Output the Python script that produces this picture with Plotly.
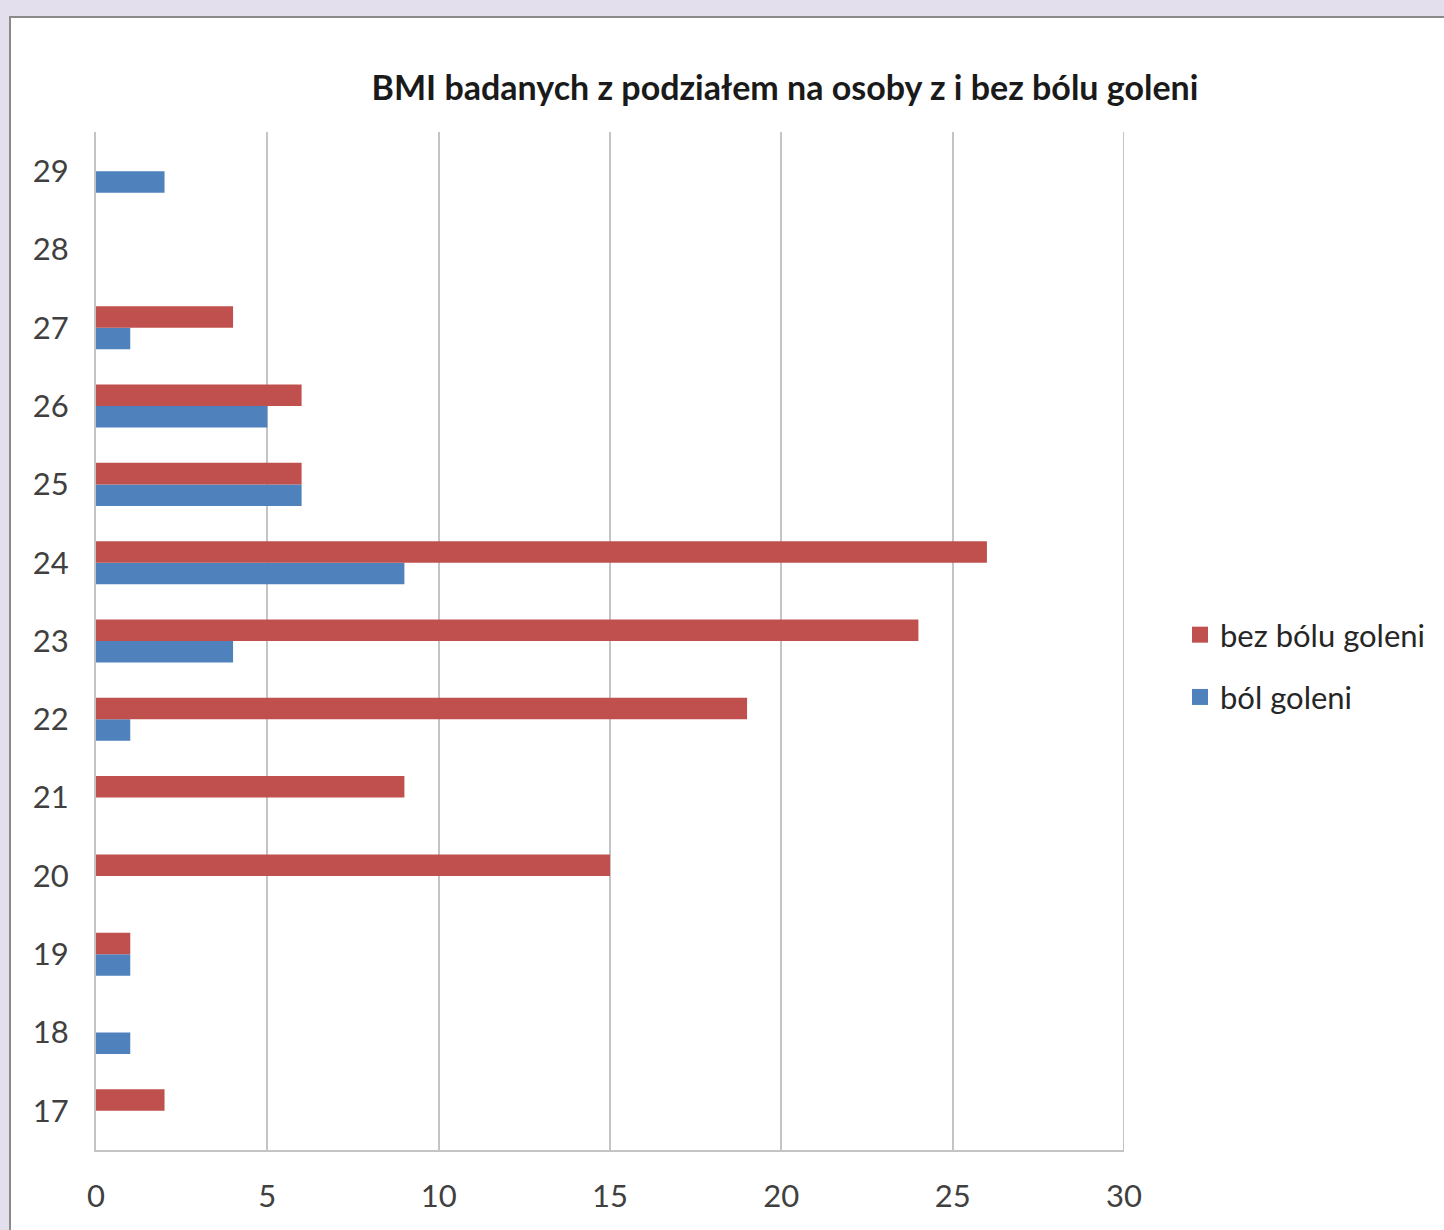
import plotly.graph_objects as go

categories = ["17", "18", "19", "20", "21", "22", "23", "24", "25", "26", "27", "28", "29"]
bol_goleni = [0, 1, 1, 0, 0, 1, 4, 9, 6, 5, 1, 0, 2]
bez_bolu_goleni = [2, 0, 1, 15, 9, 19, 24, 26, 6, 6, 4, 0, 0]
x_ticks = [0, 5, 10, 15, 20, 25, 30]

BLUE = "#4f81bd"
RED = "#c0504d"
FONT = "Lato"
W, H = 1444, 1230
L, R, T, B = 96, 320, 132, 80
pw, ph = W - L - R, H - T - B

def px_x(p):
    return (p - L) / pw

def px_y(p):
    return (H - B - p) / ph

fig = go.Figure()
fig.add_trace(go.Bar(y=categories, x=bol_goleni, orientation="h", name="ból goleni",
                     marker=dict(color=BLUE, line=dict(width=0)), showlegend=False))
fig.add_trace(go.Bar(y=categories, x=bez_bolu_goleni, orientation="h", name="bez bólu goleni",
                     marker=dict(color=RED, line=dict(width=0)), showlegend=False))
# legend entries with square swatches
fig.add_trace(go.Scatter(x=[None], y=[None], mode="markers", name="bez bólu goleni",
                         marker=dict(symbol="square", size=19, color=RED), legendgroup="a"))
fig.add_trace(go.Scatter(x=[None], y=[None], mode="markers", name="ból goleni",
                         marker=dict(symbol="square", size=19, color=BLUE), legendgroup="b"))

fig.add_shape(type="rect", xref="paper", yref="paper",
              x0=px_x(10), x1=px_x(W + 20), y0=px_y(H + 20), y1=px_y(17),
              fillcolor="white", line=dict(color="#8a8a8a", width=2), layer="below")

fig.update_layout(
    width=W, height=H,
    margin=dict(l=L, r=R, t=T, b=B, autoexpand=False),
    paper_bgcolor="#e4dfec",
    plot_bgcolor="rgba(0,0,0,0)",
    barmode="group",
    bargap=0.45,
    bargroupgap=0,
    title=dict(text="<b>BMI badanych z podziałem na osoby z i bez bólu goleni</b>",
               x=785 / W, xanchor="center", y=1 - 88 / H, yanchor="middle",
               font=dict(family=FONT, size=34, color="#1a1a1a")),
    font=dict(family=FONT, size=31, color="#404040"),
    legend=dict(x=px_x(1180), xanchor="left", y=px_y(666), yanchor="middle",
                traceorder="grouped", bgcolor="rgba(0,0,0,0)",
                font=dict(family=FONT, size=31, color="#262626"),
                itemwidth=30, tracegroupgap=19),
    xaxis=dict(range=[0, 30], tickvals=x_ticks, ticktext=[str(v) for v in x_ticks],
               showgrid=True, gridcolor="#c4c4c4", gridwidth=2,
               showline=True, linecolor="#c4c4c4", linewidth=2,
               zeroline=False, ticks="", ticklabelstandoff=18,
               tickfont=dict(family=FONT, size=31, color="#404040")),
    yaxis=dict(type="category", categoryorder="array", categoryarray=categories,
               showgrid=False, showline=True, linecolor="#c4c4c4", linewidth=2,
               ticks="", ticklabelstandoff=19,
               tickfont=dict(family=FONT, size=31, color="#404040")),
)
fig.add_shape(type="line", xref="x", yref="paper", x0=30, x1=30, y0=0, y1=1,
              line=dict(color="#c4c4c4", width=2))

fig.write_html("out.html")
